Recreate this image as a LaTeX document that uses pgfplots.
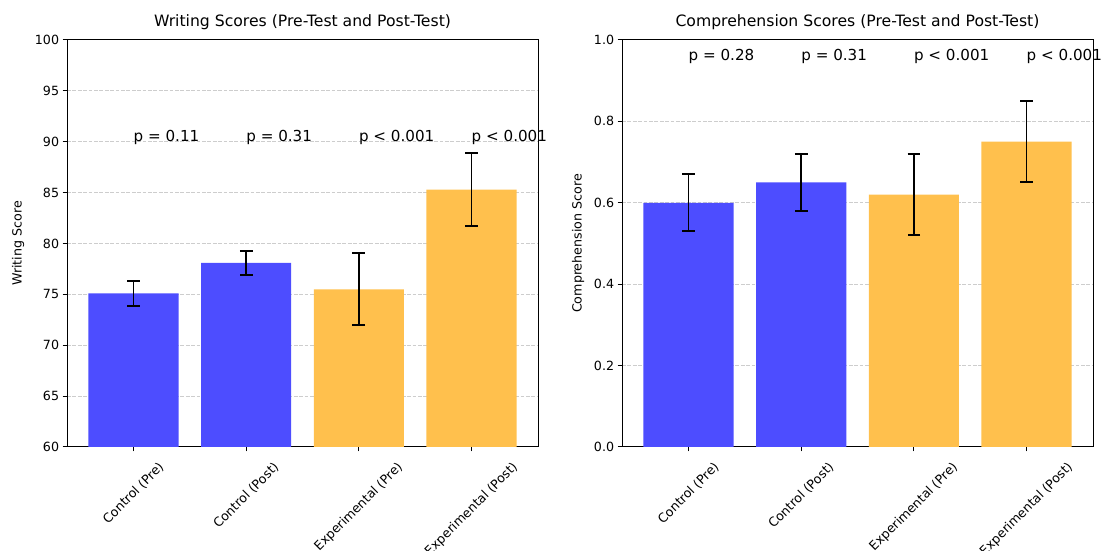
\documentclass[border=0pt]{standalone}
\usepackage{fontspec}
\setmainfont{DejaVu Sans}
\usepackage{pgfplots}
\pgfplotsset{compat=1.18}
\definecolor{cblue}{RGB}{77,77,255}
\definecolor{corange}{RGB}{255,192,77}
\definecolor{gridc}{RGB}{205,205,205}
\newlength\rlL
\newcommand\rl[1]{\sbox0{#1}\rlL=\dimexpr(\wd0-\ht0-\dp0)/4\relax\rule{0pt}{\dimexpr\ht0+\rlL\relax}\usebox0\hspace*{-\rlL}}
\pgfplotsset{myax/.style={
  width=471bp, height=407bp, scale only axis, anchor=south west,
  xmin=-0.59, xmax=3.59,
  xtick={0,1,2,3},
  xticklabels={\rl{Control (Pre)},\rl{Control (Post)},\rl{Experimental (Pre)},\rl{Experimental (Post)}},
  xticklabel style={rotate=45, anchor=north east, inner sep=0pt, font=\fontsize{12.7}{15}\selectfont},
  xticklabel shift=9.4bp,
  yticklabel style={font=\fontsize{12.7}{15}\selectfont},
  tick align=outside, major tick length=4.4bp, tick pos=left,
  ymajorgrids, grid style={gridc, dash pattern=on 3.8bp off 1.6bp, line width=1bp},
  axis line style={line width=1bp}, tick style={black, line width=1bp},
  /pgf/number format/assume math mode=true,
  clip mode=individual,
  ybar, bar width=0.8, bar shift=0pt,
  title style={font=\fontsize{15.7}{18}\selectfont, at={(0.5,1)}, anchor=base, yshift=7.5bp},
  label style={font=\fontsize{12.7}{15}\selectfont},
  error bars/y dir=both, error bars/y explicit,
  error bars/error bar style={black, line width=1.9bp},
  error bars/error mark options={black, line width=1.9bp, mark size=6.35bp, rotate=90},
}}
\begin{document}
\begin{tikzpicture}[x=1bp,y=1bp]
\path[use as bounding box] (0,0) rectangle (1106,551);
\begin{axis}[myax, at={(67bp,104bp)},
  ymin=60, ymax=100, ytick={60,65,...,100},
  title={Writing Scores (Pre-Test and Post-Test)},
  ylabel={Writing Score},
  ylabel style={at={(axis description cs:-0.104,0.5)}, anchor=center},
]
\addplot[fill=cblue, draw=none] coordinates {(0,75.1) +- (0,1.2) (1,78.1) +- (0,1.2)};
\addplot[fill=corange, draw=none] coordinates {(2,75.5) +- (0,3.55) (3,85.3) +- (0,3.6)};
\node[anchor=base west, inner sep=0pt, font=\fontsize{15.2}{18}\selectfont] at (axis cs:0,90) {p = 0.11};
\node[anchor=base west, inner sep=0pt, font=\fontsize{15.2}{18}\selectfont] at (axis cs:1,90) {p = 0.31};
\node[anchor=base west, inner sep=0pt, font=\fontsize{15.2}{18}\selectfont] at (axis cs:2,90) {p < 0.001};
\node[anchor=base west, inner sep=0pt, font=\fontsize{15.2}{18}\selectfont] at (axis cs:3,90) {p < 0.001};
\end{axis}
\begin{axis}[myax, at={(622bp,104bp)},
  ymin=0, ymax=1, ytick={0,0.2,...,1.0},
  yticklabel style={/pgf/number format/.cd, fixed, fixed zerofill, precision=1},
  title={Comprehension Scores (Pre-Test and Post-Test)},
  ylabel={Comprehension Score},
  ylabel style={at={(axis description cs:-0.093,0.5)}, anchor=center},
]
\addplot[fill=cblue, draw=none] coordinates {(0,0.60) +- (0,0.07) (1,0.65) +- (0,0.07)};
\addplot[fill=corange, draw=none] coordinates {(2,0.62) +- (0,0.10) (3,0.75) +- (0,0.10)};
\node[anchor=base west, inner sep=0pt, font=\fontsize{15.2}{18}\selectfont] at (axis cs:0,0.95) {p = 0.28};
\node[anchor=base west, inner sep=0pt, font=\fontsize{15.2}{18}\selectfont] at (axis cs:1,0.95) {p = 0.31};
\node[anchor=base west, inner sep=0pt, font=\fontsize{15.2}{18}\selectfont] at (axis cs:2,0.95) {p < 0.001};
\node[anchor=base west, inner sep=0pt, font=\fontsize{15.2}{18}\selectfont] at (axis cs:3,0.95) {p < 0.001};
\end{axis}
\end{tikzpicture}
\end{document}
